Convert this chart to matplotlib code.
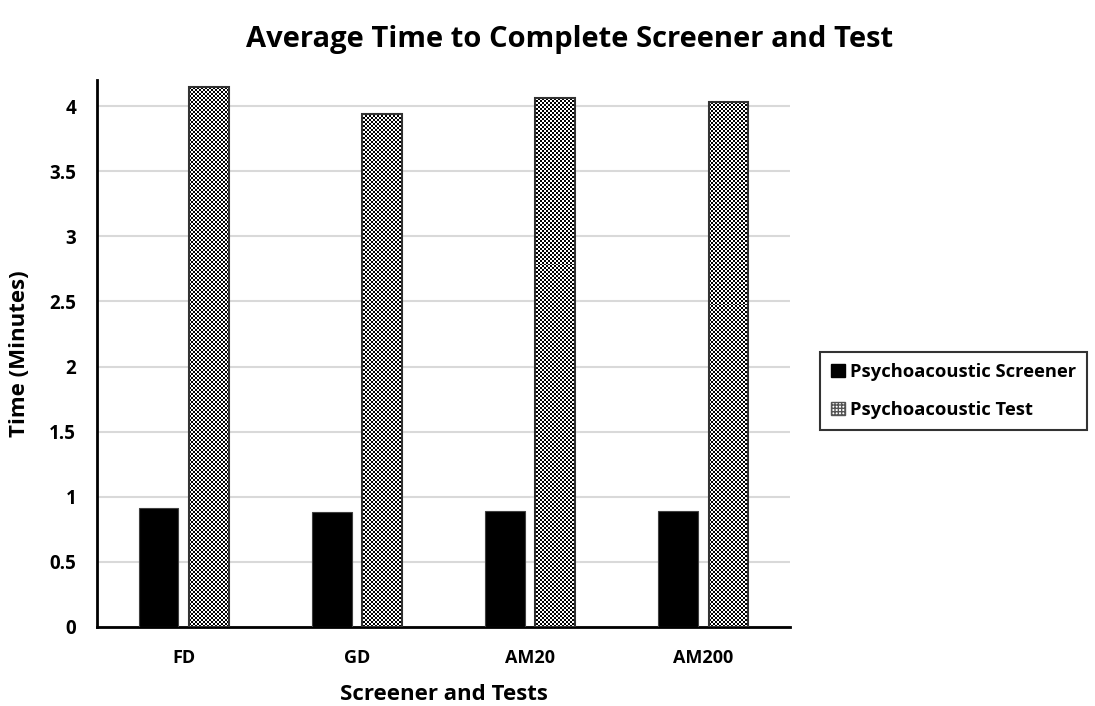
import numpy as np
import matplotlib.pyplot as plt
from matplotlib.patches import Patch

categories = ['FD', 'GD', 'AM20', 'AM200']
screener = [0.91, 0.885, 0.89, 0.89]
test = [4.15, 3.94, 4.06, 4.03]

plt.rcParams['font.family'] = ['Open Sans', 'DejaVu Sans']
plt.rcParams['font.weight'] = 'bold'

fig = plt.figure(figsize=(10.95, 7.06), dpi=100)
ax = fig.add_axes([97/1095, 1-627/706, 693/1095, (627-80)/706])

x = np.arange(len(categories))
w = 0.23
off = 0.145
ax.bar(x - off, screener, w, color='black', edgecolor='#404040', linewidth=0.8, zorder=3)
tbars = ax.bar(x + off, test, w, color='white', edgecolor='#333333', linewidth=1.5, zorder=3)

ax.set_xlim(-0.5, len(categories) - 0.5)
ax.set_ylim(0, 4.2)

# checkerboard fill for the test bars
ny, nx = 274, 347
checker = (np.add.outer(np.arange(ny), np.arange(nx)) % 2).astype(float)
for b in tbars:
    im = ax.imshow(checker, cmap='gray', extent=(-0.5, len(categories) - 0.5, 0, 4.2),
                   aspect='auto', interpolation='nearest', zorder=3.5)
    im.set_clip_path(b)
    b.set_zorder(4)
    b.set_facecolor('none')

ax.set_yticks([0, 0.5, 1, 1.5, 2, 2.5, 3, 3.5, 4])
ax.set_yticklabels(['0', '0.5', '1', '1.5', '2', '2.5', '3', '3.5', '4'])
ax.set_xticks(x)
ax.set_xticklabels(categories)
ax.tick_params(axis='y', length=0, labelsize=13.5, pad=15)
ax.tick_params(axis='x', length=0, labelsize=13, pad=16)
ax.grid(axis='y', color='#d9d9d9', linewidth=1.5, zorder=0)
ax.set_axisbelow(True)
for s in ['top', 'right']:
    ax.spines[s].set_visible(False)
ax.spines['left'].set_linewidth(2)
ax.spines['bottom'].set_linewidth(2)

ax.set_ylabel('Time (Minutes)', fontsize=16, fontweight='bold', labelpad=14)
ax.set_xlabel('Screener and Tests', fontsize=16, fontweight='bold', labelpad=12)
fig.suptitle('Average Time to Complete Screener and Test', fontsize=21, fontweight='bold',
             x=570/1095, y=1-40/706, va='center')

handles = [Patch(facecolor='black', edgecolor='black'),
           Patch(facecolor='white', edgecolor='#555555', hatch='+++++')]
leg = fig.legend(handles, ['Psychoacoustic Screener', 'Psychoacoustic Test'],
                 loc='upper left', bbox_to_anchor=(820/1095, 1-352/706), borderaxespad=0,
                 fontsize=13.2, frameon=True, fancybox=False, edgecolor='black',
                 handlelength=0.75, handleheight=0.75, handletextpad=0.3,
                 labelspacing=1.1, borderpad=0.6)
leg.get_frame().set_linewidth(1.5)

fig.savefig('out.png', dpi=100)
